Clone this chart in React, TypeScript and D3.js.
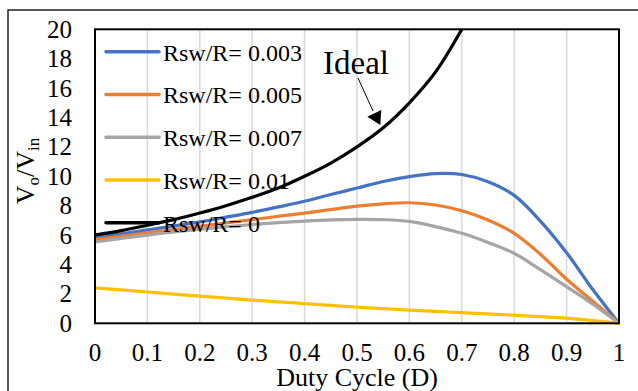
import React from "react";
import * as d3 from "d3";

const duty = [0, 0.05, 0.1, 0.15, 0.2, 0.25, 0.3, 0.35, 0.4, 0.45, 0.5, 0.55, 0.6, 0.65, 0.7, 0.75, 0.8, 0.85, 0.9, 0.95, 1];
const ideal = [6, 6.3, 6.67, 7.05, 7.5, 8.0, 8.57, 9.2, 10, 10.9, 12, 13.3, 15, 17.1, 20];
const rsw003 = [5.85, 6.08, 6.35, 6.62, 6.9, 7.22, 7.55, 7.92, 8.3, 8.76, 9.2, 9.65, 9.98, 10.18, 10.12, 9.63, 8.7, 6.95, 4.8, 2.3, 0];
const rsw005 = [5.69, 5.92, 6.15, 6.38, 6.6, 6.83, 7.05, 7.28, 7.5, 7.74, 7.97, 8.13, 8.2, 8.05, 7.66, 7.03, 6.12, 4.7, 3.0, 1.5, 0];
const rsw007 = [5.53, 5.78, 6.0, 6.22, 6.4, 6.57, 6.72, 6.85, 6.95, 7.03, 7.07, 7.05, 6.93, 6.58, 6.12, 5.5, 4.76, 3.65, 2.49, 1.3, 0];
const rsw01 = [2.41, 2.27, 2.13, 1.99, 1.85, 1.71, 1.58, 1.46, 1.34, 1.22, 1.1, 1.0, 0.9, 0.81, 0.73, 0.64, 0.55, 0.45, 0.35, 0.19, 0];
const xTicks = [0, 0.1, 0.2, 0.3, 0.4, 0.5, 0.6, 0.7, 0.8, 0.9, 1];
const yTicks = [0, 2, 4, 6, 8, 10, 12, 14, 16, 18, 20];
const legendLabels = ["Rsw/R= 0.003", "Rsw/R= 0.005", "Rsw/R= 0.007", "Rsw/R= 0.01", "Rsw/R= 0"];

const colors = ["#4472C4", "#ED7D31", "#A5A5A5", "#FFC000", "#000000"];
const FONT = "Liberation Serif";

export default function App() {
  const W = 638, H = 391;
  const x = d3.scaleLinear().domain([0, 1]).range([95, 619]);
  const y = d3.scaleLinear().domain([0, 20]).range([323.3, 29.3]);
  const line = d3
    .line<[number, number]>()
    .x((d) => x(d[0]))
    .y((d) => y(d[1]))
    .curve(d3.curveCatmullRom.alpha(0.5));

  const seriesList = [rsw003, rsw005, rsw007, rsw01];
  const idealPts: [number, number][] = ideal.map((v, i) => [duty[i], v]);

  return (
    <svg width={W} height={H} style={{ position: "absolute", left: 0, top: 0 }} fontFamily={FONT}>
      <rect x={0} y={0} width={W} height={H} fill="#fff" />
      <rect x={8} y={10} width={700} height={500} fill="none" stroke="#000" strokeWidth={1.3} />
      {xTicks.slice(1, -1).map((t) => (
        <line key={t} x1={x(t)} x2={x(t)} y1={y(20)} y2={y(0)} stroke="#d9d9d9" strokeWidth={1.5} />
      ))}
      {seriesList.map((s, k) => (
        <path
          key={k}
          d={line(s.map((v, i) => [duty[i], v] as [number, number])) || ""}
          fill="none"
          stroke={colors[k]}
          strokeWidth={3.2}
        />
      ))}
      <path d={line(idealPts) || ""} fill="none" stroke="#000" strokeWidth={3.2} />
      <rect x={x(0)} y={y(20)} width={x(1) - x(0)} height={y(0) - y(20)} fill="none" stroke="#000" strokeWidth={2} />
      {yTicks.map((t) => (
        <text key={t} x={72} y={y(t) + 8.5} textAnchor="end" fontSize={25} fontFamily={FONT} fill="#000">
          {t}
        </text>
      ))}
      {xTicks.map((t) => (
        <text key={t} x={x(t)} y={361} textAnchor="middle" fontSize={25} fontFamily={FONT} fill="#000">
          {t}
        </text>
      ))}
      <text x={x(0.5)} y={386} textAnchor="middle" fontSize={26} fontFamily={FONT} fill="#000">
        Duty Cycle (D)
      </text>
      <g transform="translate(34,171) rotate(-90)">
        <text textAnchor="middle" fontSize={26} fontFamily={FONT} fill="#000">
          V<tspan fontSize={17} dy={5}>o</tspan>
          <tspan dy={-5}>/V</tspan>
          <tspan fontSize={17} dy={5}>in</tspan>
        </text>
      </g>
      {legendLabels.map((lab, i) => {
        const ly = 51.7 + i * 42.75;
        return (
          <g key={lab}>
            <line x1={106} x2={159} y1={ly} y2={ly} stroke={colors[i]} strokeWidth={3.5} strokeLinecap="round" />
            <text x={163} y={ly + 9} fontSize={24} fontFamily={FONT} fill="#000">
              {lab}
            </text>
          </g>
        );
      })}
      <text x={323} y={74} fontSize={33} fontFamily={FONT} fill="#000">Ideal</text>
      <line x1={358} y1={78} x2={373} y2={111} stroke="#000" strokeWidth={1} />
      <path d="M380.3,125 L367.3,116.7 L381.3,110 Z" fill="#000" />
    </svg>
  );
}
